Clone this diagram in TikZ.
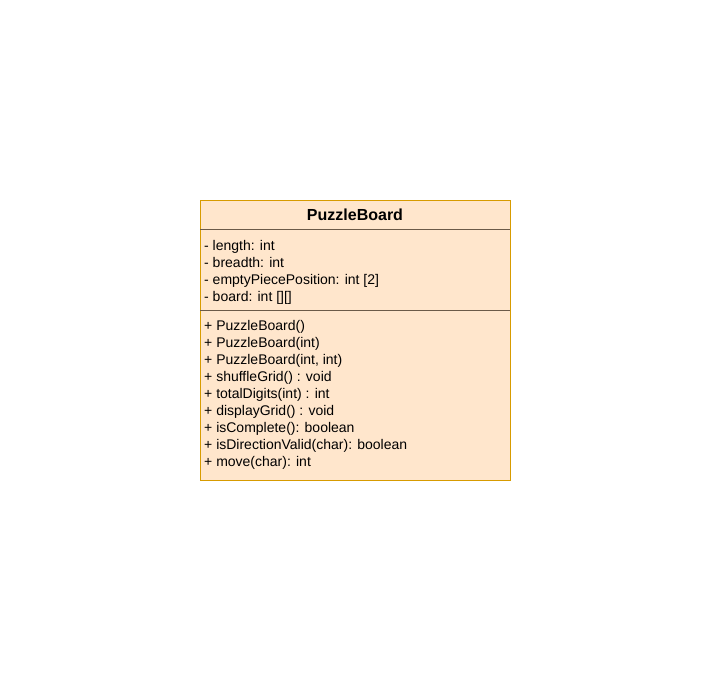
\documentclass[tikz,border=0pt]{standalone}
\usepackage{fontspec}
\setmainfont{Liberation Sans}
\definecolor{umlfill}{HTML}{FFE6CC}
\definecolor{umlstroke}{HTML}{D79B00}
\definecolor{umldiv}{HTML}{6B5A48}
\tikzset{
  member/.style={anchor=base west, inner sep=0pt, font=\fontsize{14}{17}\selectfont},
  title/.style={anchor=base, inner sep=0pt, font=\fontsize{16}{19}\bfseries\selectfont},
  classbox/.style={draw=umlstroke, fill=umlfill, line width=1pt, inner sep=0pt, anchor=north west, minimum width=310pt, minimum height=280pt},
  divider/.style={draw=umldiv, line width=1.6pt}
}
\begin{document}
\begin{tikzpicture}[x=1pt,y=-1pt]
\useasboundingbox (0,0) rectangle (711,681);
\fill[white] (0,0) rectangle (711,681);
\node[classbox] (cls) at (200,200) {};
\coordinate (d1l) at (200,229.5);
\coordinate (d1r) at (510,229.5);
\coordinate (d2l) at (200,310.5);
\coordinate (d2r) at (510,310.5);
\draw[divider] (d1l) -- (d1r);
\draw[divider] (d2l) -- (d2r);
\node[title] (t) at (355,220) {PuzzleBoard};
\node[member] (a1) at (204,250) {- length: int};
\node[member] (a2) at (204,267) {- breadth: int};
\node[member] (a3) at (204,284) {- emptyPiecePosition: int [2]};
\node[member] (a4) at (204,301) {- board: int [][]};
\node[member] (m1) at (204,330.5) {+ PuzzleBoard()};
\node[member] (m2) at (204,347.5) {+ PuzzleBoard(int)};
\node[member] (m3) at (204,364.5) {+ PuzzleBoard(int, int)};
\node[member] (m4) at (204,381.5) {+ shuffleGrid() : void};
\node[member] (m5) at (204,398.5) {+ totalDigits(int) : int};
\node[member] (m6) at (204,415.5) {+ displayGrid() : void};
\node[member] (m7) at (204,432.5) {+ isComplete(): boolean};
\node[member] (m8) at (204,449.5) {+ isDirectionValid(char): boolean};
\node[member] (m9) at (204,466.5) {+ move(char): int};
\end{tikzpicture}
\end{document}
